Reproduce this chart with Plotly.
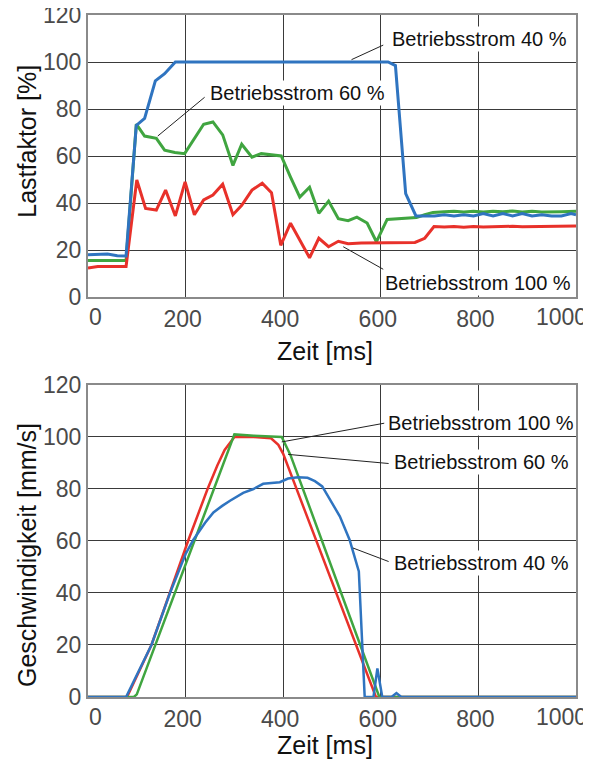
import plotly.graph_objects as go

# ---------------- data: Lastfaktor (top) ----------------
lf_blue_x = [0, 20, 40, 60, 78, 99, 116, 138, 157, 179, 200, 300, 400, 500, 600, 615, 630, 651, 672,
             690, 710, 730, 750, 770, 790, 810, 830, 850, 870, 890, 910, 930, 950, 970, 990, 1000]
lf_blue_y = [18, 18.2, 18.3, 17.6, 17.5, 73, 76, 92, 95, 100, 100, 100, 100, 100, 100, 100, 98.5, 44, 34.5,
             34.5, 34.5, 35, 34.5, 35, 34.5, 35.5, 34.5, 35.5, 34.5, 35.5, 34.5, 35, 34.5, 34.5, 35.5, 35]

lf_green_x = [0, 20, 40, 60, 78, 99, 116, 140, 157, 178, 198, 237, 256, 276, 297, 315, 336, 355, 376, 396,
              415, 434, 454, 473, 493, 513, 533, 551, 572, 591, 613, 640, 673, 690, 707, 730, 750, 770,
              790, 810, 830, 850, 870, 890, 910, 930, 950, 970, 1000]
lf_green_y = [15.5, 15.5, 15.5, 15.5, 15.5, 73.6, 68.5, 67.5, 62.5, 61.5, 61, 73.5, 74.5, 69, 56, 65, 59.5, 61, 60.5, 60,
              51, 42.5, 46.7, 35.6, 40.8, 33.3, 32.5, 34, 31.5, 23.5, 33, 33.5, 33.8, 35, 36, 36.3, 36.5, 36.2,
              36.5, 36.2, 36.5, 36.3, 36.6, 36.2, 36.5, 36.2, 36.4, 36.3, 36.5]

lf_red_x = [0, 20, 40, 60, 78, 100, 118, 140, 159, 179, 199, 218, 237, 256, 276, 297, 315, 336, 357, 376,
            395, 415, 434, 454, 473, 493, 513, 533, 560, 600, 640, 670, 690, 709, 730, 750, 770, 790, 810,
            830, 850, 870, 890, 910, 930, 950, 970, 1000]
lf_red_y = [12.3, 13, 13, 13, 13, 49.8, 37.7, 37, 45.5, 34.5, 49, 35, 41.3, 43.4, 48, 35, 39, 45.5, 48.4, 44.4,
            22, 31.4, 24.5, 16.7, 25, 21.4, 23.7, 22.7, 23, 23, 23, 23.2, 25, 30, 29.8, 30, 29.7, 30, 29.8,
            30, 29.9, 30.1, 29.9, 30, 30, 30.1, 30, 30.2]

# ---------------- data: Geschwindigkeit (bottom) ----------------
v_red_x = [0, 80, 130, 168, 205, 245, 265, 280, 300, 340, 375, 390, 400, 590, 1000]
v_red_y = [0, 0, 20, 40, 60, 80, 89, 95, 100, 100, 99.5, 97, 93.5, 0, 0]

v_green_x = [0, 94, 100, 300, 340, 397, 415, 597, 1000]
v_green_y = [0, 0, 1, 101, 100.5, 100, 93, 0, 0]

v_blue_x = [0, 78, 130, 168, 200, 216, 240, 257, 275, 291, 318, 339, 359, 393, 410, 430, 450, 465, 480,
            495, 516, 536, 555, 567, 585, 593, 603, 622, 632, 642, 1000]
v_blue_y = [0, 0, 20, 40, 55, 60.5, 67, 71, 73.5, 75.5, 78.5, 80, 82, 82.6, 84, 84.5, 84.3, 83, 81,
            76, 69.5, 60.5, 48.3, 0, 0, 11, 0, 0, 1.5, 0, 0]

x_ticks = [0, 200, 400, 600, 800, 1000]
x_ticktext = ["", "200", "400", "600", "800", ""]
x_first_label = "0"
x_last_label = "1000"
y_ticks = [0, 20, 40, 60, 80, 100, 120]

BLUE = "#2f74c0"
GREEN = "#40a540"
RED = "#e8312a"

fig = go.Figure()
# top
fig.add_trace(go.Scatter(x=lf_green_x, y=lf_green_y, mode="lines", line=dict(color=GREEN, width=3), xaxis="x", yaxis="y"))
fig.add_trace(go.Scatter(x=lf_red_x, y=lf_red_y, mode="lines", line=dict(color=RED, width=3), xaxis="x", yaxis="y"))
fig.add_trace(go.Scatter(x=lf_blue_x, y=lf_blue_y, mode="lines", line=dict(color=BLUE, width=3), xaxis="x", yaxis="y"))
# bottom
fig.add_trace(go.Scatter(x=v_red_x, y=v_red_y, mode="lines", line=dict(color=RED, width=2.5), xaxis="x2", yaxis="y2"))
fig.add_trace(go.Scatter(x=v_green_x, y=v_green_y, mode="lines", line=dict(color=GREEN, width=2.5), xaxis="x2", yaxis="y2"))
fig.add_trace(go.Scatter(x=v_blue_x, y=v_blue_y, mode="lines", line=dict(color=BLUE, width=2.5), xaxis="x2", yaxis="y2"))

TICKFONT = dict(family="Liberation Sans, Arial", size=23, color="#4a4a4a")
axis_common = dict(showgrid=True, gridcolor="#3a3a3a", gridwidth=1, showline=True, linecolor="#8a8a8a",
                   linewidth=2, mirror=True, zeroline=False, ticks="", tickfont=TICKFONT,
                   automargin=False, ticklabeloverflow="allow")
xaxis_extra = dict(range=[0, 1000], tickvals=x_ticks, ticktext=x_ticktext, ticklabelshift=-3)
yaxis_extra = dict(range=[0, 120], tickvals=y_ticks, ticklabelstandoff=0)

# the page adds an 8px body margin, so the figure is sized to fit inside the window
fig.update_layout(
    width=583, height=759,
    margin=dict(l=80, r=15, t=7, b=70, autoexpand=False),
    paper_bgcolor="white", plot_bgcolor="white",
    showlegend=False,
    font=dict(family="Liberation Sans, Arial", color="#111"),
    xaxis=dict(domain=[0, 1], anchor="y", **xaxis_extra, **axis_common),
    yaxis=dict(domain=[0.5865, 1], anchor="x", **yaxis_extra, **axis_common),
    xaxis2=dict(domain=[0, 1], anchor="y2", **xaxis_extra, **axis_common),
    yaxis2=dict(domain=[0, 0.4575], anchor="x2", **yaxis_extra, **axis_common),
)

# first / last x tick labels, nudged inward like in the original
for xr, yr in (("x", "y"), ("x2", "y2")):
    fig.add_annotation(text=x_first_label, x=0, y=0, xref=xr, yref=yr, showarrow=False,
                       xanchor="center", yanchor="middle", xshift=7.5, yshift=-20, font=TICKFONT)
    fig.add_annotation(text=x_last_label, x=1000, y=0, xref=xr, yref=yr, showarrow=False,
                       xanchor="right", yanchor="middle", xshift=13, yshift=-20, font=TICKFONT)

TITLEFONT = dict(family="Liberation Sans, Arial", size=25, color="#111")
ANNFONT = dict(family="Liberation Sans, Arial", size=20, color="#111")

titles = [
    dict(text="Zeit [ms]", x=0.485, y=0.5078, xref="paper", yref="paper", textangle=0),
    dict(text="Zeit [ms]", x=0.485, y=-0.0704, xref="paper", yref="paper", textangle=0),
    dict(text="Lastfaktor [%]", x=-0.125, y=0.8142, xref="paper", yref="paper", textangle=-90),
    dict(text="Geschwindigkeit [mm/s]", x=-0.125, y=0.2082, xref="paper", yref="paper", textangle=-90),
]
for t in titles:
    fig.add_annotation(showarrow=False, font=TITLEFONT, xanchor="center", yanchor="middle", **t)

# series labels (text boxes with white background)
labels = [
    dict(text="Betriebsstrom 40 %", x=802, y=109.8, xref="x", yref="y"),
    dict(text="Betriebsstrom 60 %", x=429, y=87, xref="x", yref="y"),
    dict(text="Betriebsstrom 100 %", x=800, y=5.8, xref="x", yref="y"),
    dict(text="Betriebsstrom 100 %", x=805, y=105.3, xref="x2", yref="y2"),
    dict(text="Betriebsstrom 60 %", x=807, y=90.3, xref="x2", yref="y2"),
    dict(text="Betriebsstrom 40 %", x=807, y=51.7, xref="x2", yref="y2"),
]
for a in labels:
    fig.add_annotation(showarrow=False, font=ANNFONT, bgcolor="white", borderpad=1,
                       xanchor="center", yanchor="middle", **a)

# leader lines
leaders = [
    ("x", "y", 605, 107.2, 540, 101),
    ("x", "y", 239, 85, 143, 68.5),
    ("x", "y", 605, 11.8, 523, 21.4),
    ("x2", "y2", 607, 105.3, 397, 98.1),
    ("x2", "y2", 616, 89.8, 410, 93.3),
    ("x2", "y2", 616, 52.1, 543, 57.3),
]
for xr, yr, x0, y0, x1, y1 in leaders:
    fig.add_shape(type="line", xref=xr, yref=yr, x0=x0, y0=y0, x1=x1, y1=y1,
                  line=dict(color="#222", width=1))

fig.write_html("out.html")
